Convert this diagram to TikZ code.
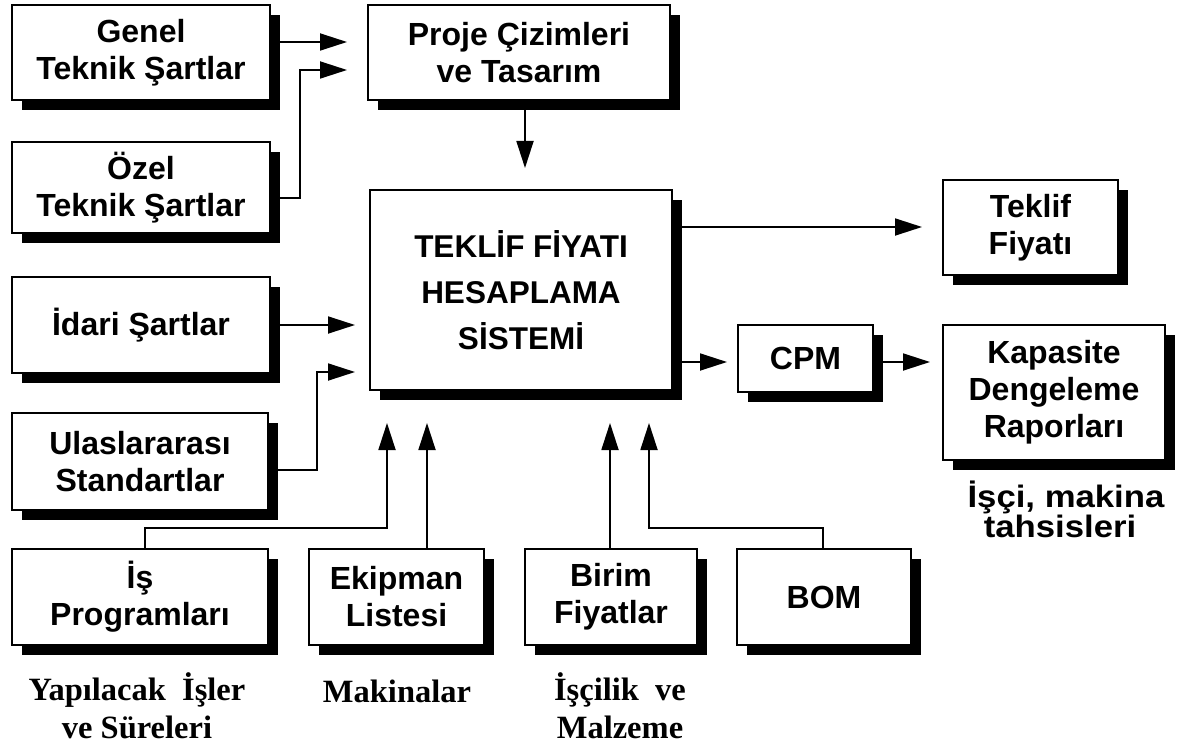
\documentclass[tikz,border=0pt]{standalone}
\usepackage{fontspec}
\setmainfont{Liberation Serif}
\setsansfont{Liberation Sans}
\usetikzlibrary{arrows.meta,shadows,calc}
\tikzset{
  box/.style={draw, line width=1.8pt, fill=white, align=center, inner sep=0pt,
    font=\sffamily\bfseries\fontsize{32}{37}\selectfont,
    drop shadow={shadow xshift=10pt, shadow yshift=-10pt, opacity=1, fill=black}},
  arr/.style={line width=1.8pt, -{Triangle[length=27pt,width=17pt]}},
  serlab/.style={font=\rmfamily\bfseries\fontsize{32.5}{38}\selectfont, anchor=base, inner sep=0pt},
  sanslab/.style={font=\sffamily\bfseries\fontsize{31}{36}\selectfont, anchor=base, inner sep=0pt, xscale=1.12}
}
\begin{document}
\begin{tikzpicture}[x=1pt,y=-1pt]
\useasboundingbox (0,0) rectangle (1192,749);
% boxes
\node[box, minimum width=258pt, minimum height=95pt] (genel) at (141,52.5) {Genel\\Teknik Şartlar};
\node[box, minimum width=258pt, minimum height=91pt] (ozel) at (141,187.5) {Özel\\Teknik Şartlar};
\node[box, minimum width=258pt, minimum height=96pt] (idari) at (141,325) {İdari Şartlar};
\node[box, minimum width=256pt, minimum height=97pt] (ulas) at (140,461.5) {Ulaslararası\\Standartlar};
\node[box, minimum width=256pt, minimum height=96pt] (is) at (140,597) {İş\\Programları};
\node[box, minimum width=175pt, minimum height=96pt] (ekip) at (396.5,597) {Ekipman\\Listesi};
\node[box, minimum width=172pt, minimum height=96pt] (birim) at (611,597) {Birim\\Fiyatlar};
\node[box, minimum width=174pt, minimum height=96pt] (bom) at (824,597) {BOM};
\node[box, minimum width=302pt, minimum height=95pt] (proje) at (519,52.5) {Proje Çizimleri\\ve Tasarım};
\node[box, minimum width=302pt, minimum height=200pt, font=\sffamily\bfseries\fontsize{31.5}{46}\selectfont] (main) at (521,290) {TEKLİF FİYATI\\HESAPLAMA\\SİSTEMİ};
\node[box, minimum width=175pt, minimum height=95pt] (teklif) at (1030.5,227.5) {Teklif\\Fiyatı};
\node[box, minimum width=135pt, minimum height=67pt] (cpm) at (805.5,358.5) {CPM};
\node[box, minimum width=222pt, minimum height=135pt] (kap) at (1054,392.5) {Kapasite\\Dengeleme\\Raporları};
% coordinates
\coordinate (a1) at (347,42);
\coordinate (j2) at (300,70);
\coordinate (a2) at (347,70);
\coordinate (a3) at (355,325);
\coordinate (j4) at (317,372);
\coordinate (a4) at (355,372);
\coordinate (p1) at (525,168);
\coordinate (t1) at (922,227);
\coordinate (c1) at (727,362);
\coordinate (k1) at (930,362);
\coordinate (j5) at (145,528);
\coordinate (b1) at (387,423);
\coordinate (b2) at (427,423);
\coordinate (b3) at (610,423);
\coordinate (b4) at (649,423);
\coordinate (j6) at (823,528);
% connectors
\draw[arr] (genel.east |- a1) -- (a1);
\draw[arr] ([yshift=-10.5pt]ozel.east) -| (j2) -- (a2);
\draw[arr] (idari.east |- a3) -- (a3);
\draw[arr] ([yshift=-8.5pt]ulas.east) -| (j4) -- (a4);
\draw[arr] (proje.south -| p1) -- (p1);
\draw[arr] (main.east |- t1) -- (t1);
\draw[arr] (main.east |- c1) -- (c1);
\draw[arr] (cpm.east |- k1) -- (k1);
\draw[arr] (j5 |- is.north) -- (j5) -| (b1);
\draw[arr] (ekip.north -| b2) -- (b2);
\draw[arr] (birim.north -| b3) -- (b3);
\draw[arr] (j6 |- bom.north) -- (j6) -| (b4);
% labels
\node[serlab] (l1a) at (137,700) {Yapılacak\ \ İşler};
\node[serlab] (l1b) at (137,738) {ve Süreleri};
\node[serlab] (l2) at (397,702) {Makinalar};
\node[serlab] (l3a) at (620,700) {İşçilik\ \ ve};
\node[serlab] (l3b) at (620,738) {Malzeme};
\node[sanslab] (l4a) at (1066,507) {İşçi, makina};
\node[sanslab] (l4b) at (1060,537) {tahsisleri};
\end{tikzpicture}
\end{document}
